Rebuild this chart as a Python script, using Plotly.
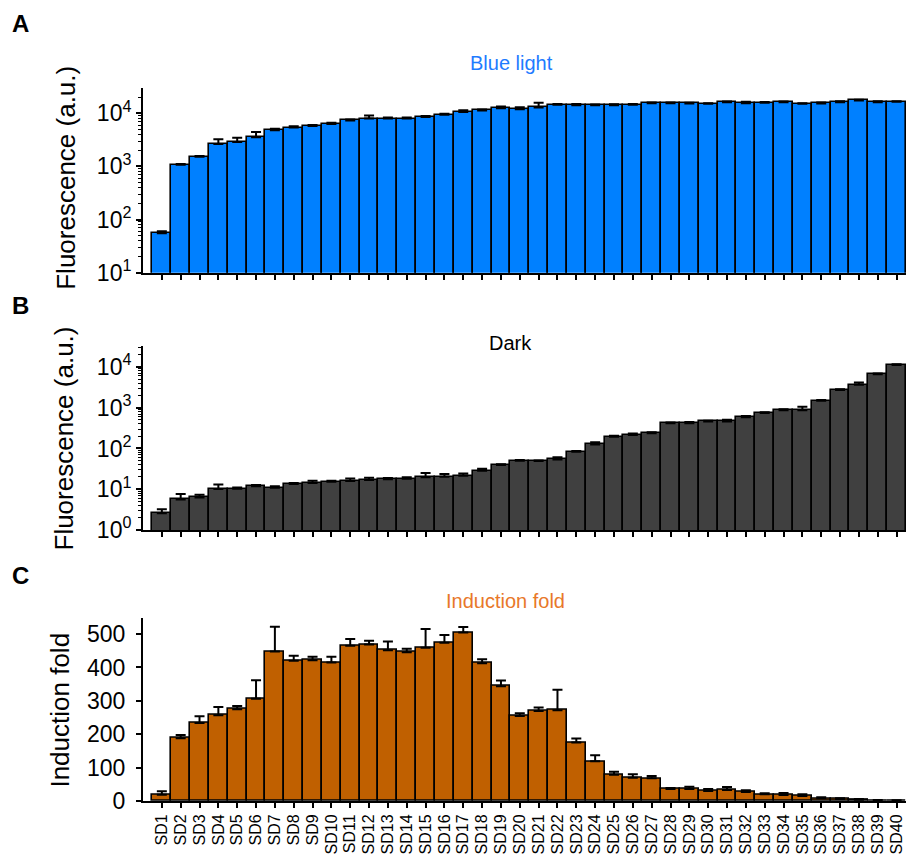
import plotly.graph_objects as go

categories = [f"SD{i}" for i in range(1, 41)]

blue_values = [55, 1070, 1510, 2630, 2880, 3550, 4790, 5370, 5750, 6300,
               7330, 7940, 7940, 7940, 8510, 9330, 10500, 11300, 12480, 11940,
               12850, 14420, 14190, 14190, 14190, 14420, 15490, 15490, 15270, 15060,
               16180, 15490, 15710, 16180, 15060, 15270, 16180, 17380, 16180, 16410]
blue_err = [5, 40, 60, 610, 590, 900, 340, 350, 250, 300,
            300, 1150, 400, 400, 400, 500, 900, 500, 900, 1000,
            2900, 500, 700, 400, 500, 500, 500, 400, 500, 400,
            400, 1000, 500, 400, 400, 700, 600, 600, 600, 400]

dark_values = [2.57, 5.65, 6.3, 10.1, 10.3, 11.8, 10.9, 13.4, 14.2, 15.2,
               15.9, 16.8, 17.5, 18.1, 19.6, 20.3, 21.4, 28.4, 39.2, 50,
               49, 54, 83, 126, 194, 213, 235, 418, 418, 460,
               460, 580, 740, 870, 870, 1480, 2700, 3640, 6640, 11200]
dark_err = [0.65, 2.0, 1.0, 3.0, 0.8, 1.0, 1.0, 0.9, 2.0, 1.0,
            2.5, 2.5, 1.5, 1.5, 5.5, 3.5, 3.0, 3.5, 2.0, 2.0,
            2.0, 7, 4, 16, 12, 20, 15, 15, 25, 20,
            45, 50, 30, 40, 180, 60, 150, 500, 300, 400]

fold_values = [19, 188, 234, 257, 275, 306, 448, 420, 422, 415,
               465, 469, 452, 446, 459, 474, 505, 413, 344, 255,
               270, 272, 175, 119, 79, 70, 68, 36, 36, 30,
               33, 27, 20, 18, 15, 8, 6, 4, 2, 1]
fold_err = [10, 10, 20, 25, 10, 56, 74, 15, 10, 17,
            20, 11, 26, 10, 56, 23, 16, 12, 17, 8,
            10, 61, 12, 18, 9, 10, 7, 3, 7, 6,
            9, 5, 3, 6, 5, 3, 2, 2, 1, 1]

FONT = "Liberation Sans, Arial, sans-serif"


def bar(values, err, color, xa, ya):
    return go.Bar(
        x=categories, y=values, xaxis=xa, yaxis=ya,
        marker=dict(color=color, line=dict(color="black", width=1.6)),
        error_y=dict(type="data", symmetric=False, array=err,
                     arrayminus=[0] * len(err), color="black",
                     thickness=2, width=5),
        showlegend=False,
    )


fig = go.Figure()
fig.add_trace(bar(blue_values, blue_err, "#0080FF", "x", "y"))
fig.add_trace(bar(dark_values, dark_err, "#404040", "x2", "y2"))
fig.add_trace(bar(fold_values, fold_err, "#C06000", "x3", "y3"))

minor_log = [m * 10 ** e for e in range(0, 5) for m in range(2, 10)]

xcommon = dict(type="category", range=[-1, 39.5], showline=True,
               linecolor="black", linewidth=2, ticks="outside", ticklen=5,
               tickwidth=1.5, tickcolor="black", showgrid=False, zeroline=False,
               tickmode="array", tickvals=categories, ticktext=categories)
ycommon = dict(showline=True, linecolor="black", linewidth=2, ticks="outside",
               ticklen=5, tickwidth=2, tickcolor="black", showgrid=False,
               zeroline=False, tickfont=dict(family=FONT, size=23, color="black"))

fig.update_layout(
    width=906, height=862,
    margin=dict(l=143, r=0, t=88, b=61),
    plot_bgcolor="white", paper_bgcolor="white",
    bargap=0,
    font=dict(family=FONT, color="black"),
    xaxis=dict(**xcommon, domain=[0, 1], anchor="y", showticklabels=False),
    xaxis2=dict(**xcommon, domain=[0, 1], anchor="y2", showticklabels=False),
    xaxis3=dict(**xcommon, domain=[0, 1], anchor="y3", showticklabels=True,
                tickangle=-90, tickfont=dict(family=FONT, size=16, color="black")),
    yaxis=dict(**ycommon, type="log", domain=[0.741, 1.0], range=[1, 4.475],
               tickvals=[10, 100, 1000, 10000],
               ticktext=["10<sup>1</sup>", "10<sup>2</sup>", "10<sup>3</sup>", "10<sup>4</sup>"],
               minor=dict(ticks="outside", ticklen=3, tickcolor="black",
                          tickwidth=1, tickvals=minor_log)),
    yaxis2=dict(**ycommon, type="log", domain=[0.38, 0.638], range=[0, 4.51],
                tickvals=[1, 10, 100, 1000, 10000],
                ticktext=["10<sup>0</sup>", "10<sup>1</sup>", "10<sup>2</sup>", "10<sup>3</sup>", "10<sup>4</sup>"],
                minor=dict(ticks="outside", ticklen=3, tickcolor="black",
                           tickwidth=1, tickvals=minor_log)),
    yaxis3=dict(**ycommon, domain=[0, 0.257], range=[0, 549],
                tickvals=[0, 100, 200, 300, 400, 500], ticklabelstandoff=6),
)

annots = [
    dict(text="<b>A</b>", x=-0.16, y=1.091, size=24, color="black", angle=0),
    dict(text="<b>B</b>", x=-0.16, y=0.6955, size=24, color="black", angle=0),
    dict(text="<b>C</b>", x=-0.16, y=0.3167, size=24, color="black", angle=0),
    dict(text="Blue light", x=0.4836, y=1.0351, size=20, color="#1E7BFF", angle=0),
    dict(text="Dark", x=0.4823, y=0.6422, size=20, color="black", angle=0),
    dict(text="Induction fold", x=0.4757, y=0.2806, size=20, color="#E8782A", angle=0),
    dict(text="Fluorescence (a.u.)", x=-0.101, y=0.874, size=26, color="black", angle=-90),
    dict(text="Fluorescence (a.u.)", x=-0.103, y=0.509, size=26, color="black", angle=-90),
    dict(text="Induction fold", x=-0.109, y=0.128, size=26, color="black", angle=-90),
]
for a in annots:
    fig.add_annotation(text=a["text"], x=a["x"], y=a["y"], xref="paper", yref="paper",
                       xanchor="center", yanchor="middle", showarrow=False,
                       textangle=a["angle"],
                       font=dict(family=FONT, size=a["size"], color=a["color"]))

fig.write_html("out.html", config={"displayModeBar": False},
               post_script="document.body.style.margin='0';document.body.style.overflow='hidden';")
